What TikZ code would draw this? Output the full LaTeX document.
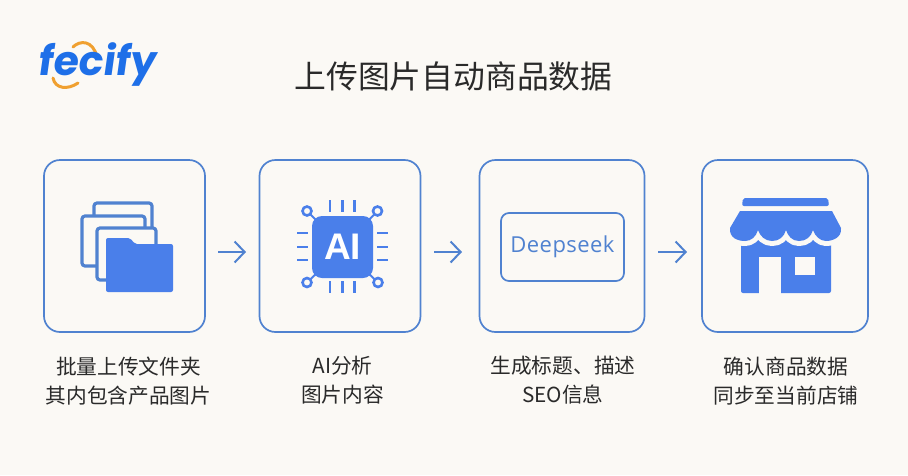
\documentclass[tikz,border=0pt]{standalone}
\usepackage{fontspec}
\setmainfont{Noto Sans CJK SC}
\newfontfamily\logofont[FakeSlant=0.14]{Poppins}
\newfontfamily\chipfont{Liberation Sans}
\newfontfamily\dsfont[LetterSpace=2]{Open Sans}
\usetikzlibrary{arrows.meta}
\definecolor{bgc}{HTML}{FBF9F5}
\definecolor{edgec}{HTML}{5082D0}
\definecolor{iconc}{HTML}{4A7FEA}
\definecolor{logob}{HTML}{1E6FE8}
\definecolor{logoo}{HTML}{F0A030}
\definecolor{textc}{HTML}{2A2A2A}
\tikzset{
  card/.style={draw=edgec,line width=1.7pt,rounded corners=16pt,inner sep=0pt},
  flow/.style={draw=edgec,line width=2pt,-{Straight Barb[length=10pt,width=21pt,line width=2pt]}},
  captext/.style={align=center,font=\fontsize{20.7}{29}\selectfont,text=textc,anchor=north},
  pane/.style={draw=edgec,line width=3.2pt,rounded corners=3pt,fill=bgc},
  pin/.style={draw=iconc,line width=2.6pt},
  ring/.style={draw=iconc,line width=2.6pt,fill=bgc},
}
\begin{document}
\begin{tikzpicture}[x=1pt,y=-1pt]
\useasboundingbox (0,0) rectangle (908,475);
\fill[bgc] (0,0) rectangle (908,475);
% logo
\draw[logoo,line width=3pt,line cap=round] (73,47) .. controls (80,40) and (93,40) .. (97,57);
\draw[logoo,line width=3pt,line cap=round] (53,78) .. controls (55,89) and (68,90) .. (78,83);
\node[font=\logofont\bfseries\fontsize{41}{41}\selectfont,text=logob] (logo) at (96.5,64.5) {fecify};
% title
\node[font=\fontsize{31.8}{36}\selectfont,text=textc] (title) at (453.5,76) {上传图片自动商品数据};
% cards
\node[card,minimum width=161pt,minimum height=172pt] (c1) at (124.5,246) {};
\node[card,minimum width=161pt,minimum height=172pt] (c2) at (340,246) {};
\node[card,minimum width=165pt,minimum height=172pt] (c3) at (562,246) {};
\node[card,minimum width=166pt,minimum height=172pt] (c4) at (785,246) {};
% arrows
\coordinate (a1s) at (218,252); \coordinate (a1e) at (246,252);
\coordinate (a2s) at (434,252); \coordinate (a2e) at (462,252);
\coordinate (a3s) at (658,252); \coordinate (a3e) at (687,252);
\draw[flow] (a1s) -- (a1e);
\draw[flow] (a2s) -- (a2e);
\draw[flow] (a3s) -- (a3e);
% folder icon
\draw[pane] (94,203) rectangle (152,250);
\draw[pane] (82,216) rectangle (145,266);
\draw[pane] (97,228) rectangle (156,280);
\fill[iconc,rounded corners=2pt] (106,292) -- (106,238) -- (130,238) -- (135,244) -- (173,244) -- (173,292) -- cycle;
% chip icon
\foreach \x in {330,342.5,354.5} {
  \draw[pin] (\x,200) -- (\x,212);
  \draw[pin] (\x,281) -- (\x,293);
}
\foreach \y in {233,247,260} {
  \draw[pin] (297,\y) -- (308,\y);
  \draw[pin] (377,\y) -- (388,\y);
}
\draw[pin,line width=2pt] (307,211) -- (318,222);
\draw[pin,line width=2pt] (377.5,211) -- (367,222);
\draw[pin,line width=2pt] (307,282.5) -- (318,272);
\draw[pin,line width=2pt] (378,282.5) -- (367,272);
\draw[ring] (307,211) circle (4.5);
\draw[ring] (377.5,211) circle (4.5);
\draw[ring] (307,282.5) circle (4.5);
\draw[ring] (378,282.5) circle (4.5);
\node[fill=iconc,rounded corners=10pt,minimum width=61pt,minimum height=62pt,inner sep=0pt,font=\chipfont\bfseries\fontsize{37}{37}\selectfont,text=white] (chip) at (342.5,247) {AI};
% deepseek
\node[draw=edgec,line width=1.7pt,rounded corners=8pt,minimum width=123pt,minimum height=68pt,inner sep=0pt,font=\dsfont\fontsize{22}{22}\selectfont,text=edgec] (ds) at (562.5,247) {\raisebox{-1pt}{Deepseek}};
% store icon
\fill[iconc,rounded corners=2pt] (741,236) rectangle (831,293);
\fill[bgc] (759,294) -- (759,257) -- (781,257) -- (781,294) -- cycle;
\fill[bgc] (795,257) rectangle (815,275);
\def\awning{(740,211) -- (832,211) -- (841,228)
  .. controls (842,238) and (832,241) .. (826,241)
  .. controls (820,241) and (815,236) .. (813,230)
  .. controls (811,237) and (806,241) .. (799,241)
  .. controls (792,241) and (788,236) .. (786,230)
  .. controls (784,237) and (779,241) .. (772,241)
  .. controls (765,241) and (760,236) .. (758,230)
  .. controls (756,237) and (751,241) .. (745,241)
  .. controls (738,241) and (729,238) .. (730,228) -- cycle}
\draw[bgc,line width=10pt,line join=round] \awning;
\fill[iconc] \awning;
\fill[iconc,rounded corners=2pt] (742,206) -- (743,198) -- (828,198) -- (829,206) -- cycle;
% captions
\node[captext] (t1) at (128.5,353) {批量上传文件夹\\其内包含产品图片};
\node[captext] (t2) at (342.5,353) {AI分析\\图片内容};
\node[captext] (t3) at (563,353) {生成标题、描述\\SEO信息};
\node[captext] (t4) at (786,353) {确认商品数据\\同步至当前店铺};
\end{tikzpicture}
\end{document}
